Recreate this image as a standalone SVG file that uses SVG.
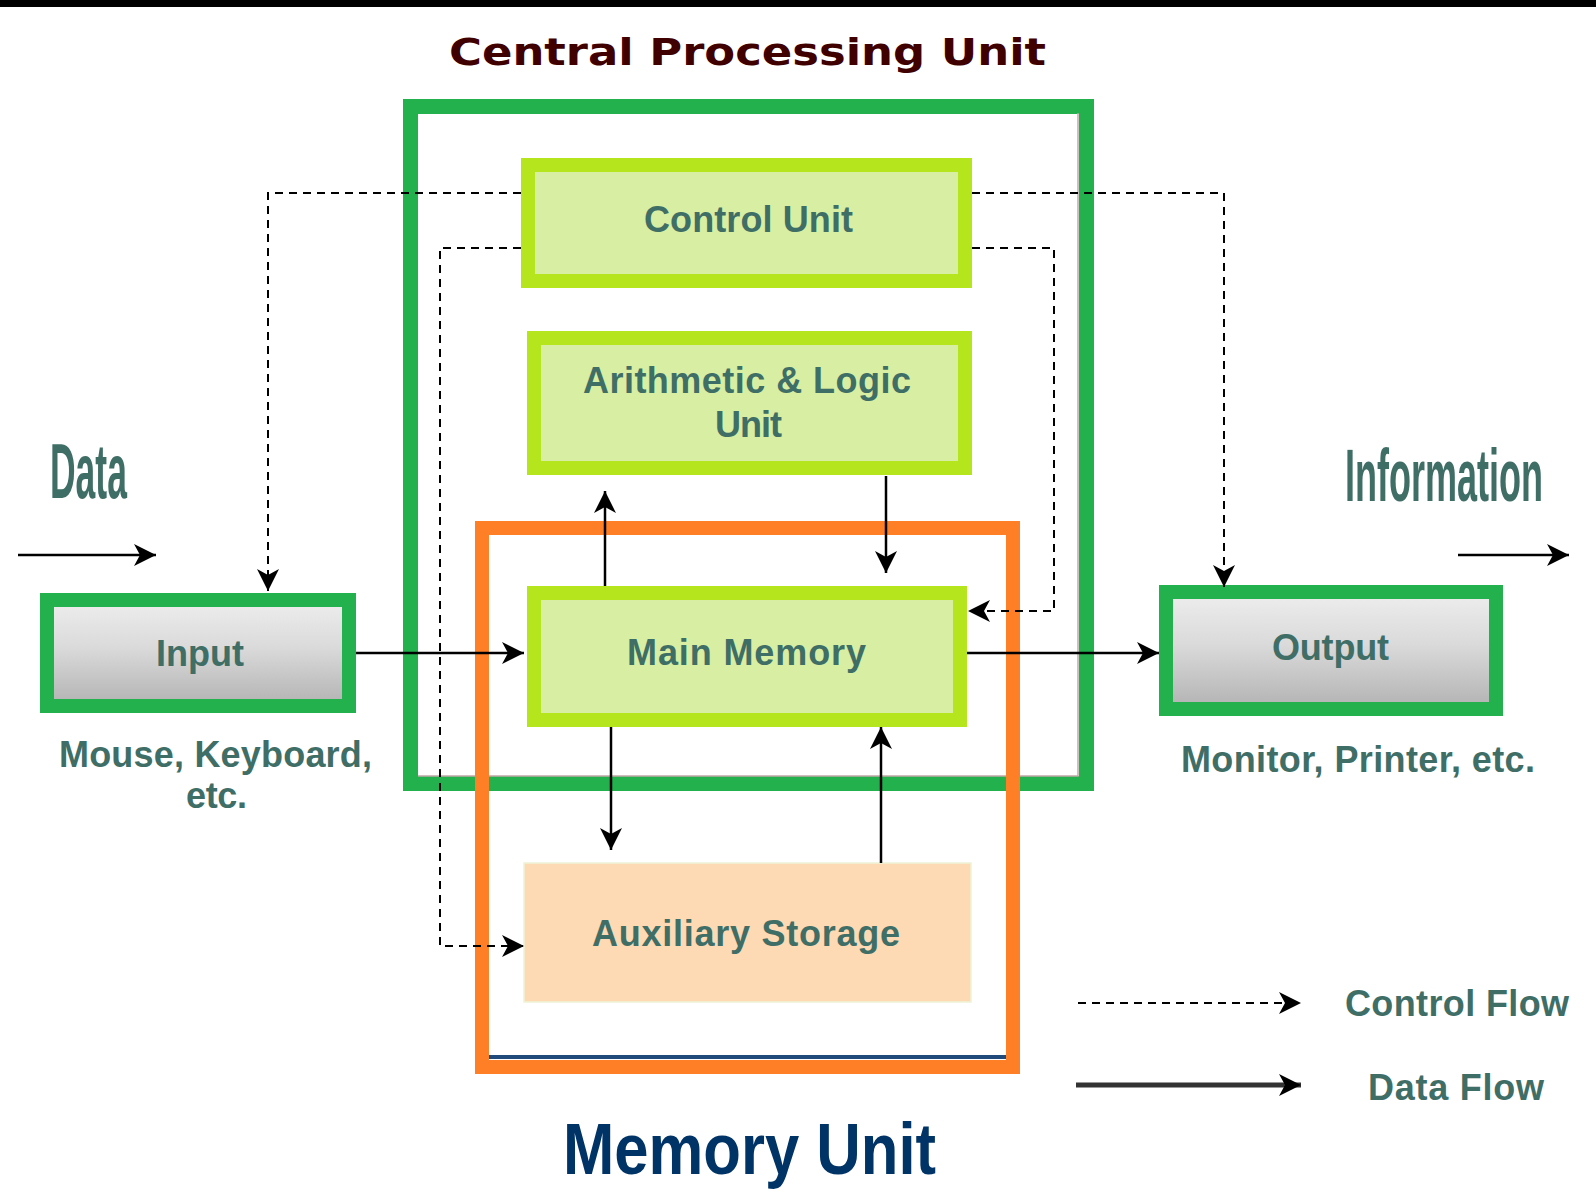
<svg xmlns="http://www.w3.org/2000/svg" width="1596" height="1202" viewBox="0 0 1596 1202">
  <style>
    .lbl { font-family: "Liberation Sans", Arial, sans-serif; font-weight: bold; font-size: 36px; fill: #3f6e66; }
    .tall { font-family: "Liberation Sans", Arial, sans-serif; font-weight: bold; fill: #3f6e66; }
    .title { font-family: "DejaVu Sans", Verdana, sans-serif; font-weight: bold; font-size: 38px; fill: #400000; }
    .mem { font-family: "Liberation Sans", Arial, sans-serif; font-weight: bold; font-size: 72px; fill: #003366; }
    .unit { fill: #d7eea3; stroke: #b5e61d; stroke-width: 14; }
    .io { fill: url(#ioFill); stroke: #22b14c; stroke-width: 14; }
    .data { fill: none; stroke: #000; stroke-width: 2.5; marker-end: url(#head); }
    .ctrl { fill: none; stroke: #000; stroke-width: 2; stroke-dasharray: 8 6; marker-end: url(#head); }
  </style>
  <defs>
    <linearGradient id="ioFill" x1="0" y1="0" x2="0" y2="1">
      <stop offset="0" stop-color="#eeeeee"/>
      <stop offset="0.45" stop-color="#dadada"/>
      <stop offset="1" stop-color="#b2b2b2"/>
    </linearGradient>
    <marker id="head" markerUnits="userSpaceOnUse" viewBox="0 0 22 22" refX="22" refY="11" markerWidth="22" markerHeight="22" orient="auto">
      <path d="M0,0 L22,11 L0,22 L6,11 Z" fill="#000"/>
    </marker>
  </defs>

  <rect x="0" y="0" width="1596" height="1202" fill="#fff"/>
  <rect x="0" y="0" width="1596" height="7" fill="#000"/>

  <!-- CPU container -->
  <g id="cpu">
    <rect x="410.5" y="106.5" width="676" height="677" fill="none" stroke="#22b14c" stroke-width="15"/>
    <path d="M1078,113 V776 H418" fill="none" stroke="#c2a8a8" stroke-width="1.5"/>
    <text class="title" x="449" y="65" textLength="597" lengthAdjust="spacingAndGlyphs">Central Processing Unit</text>
  </g>

  <!-- Memory unit container -->
  <g id="memory-unit">
    <rect x="482" y="528" width="531" height="539" fill="none" stroke="#ff7f27" stroke-width="14"/>
    <rect x="489" y="1055" width="517" height="4" fill="#1f4a7a"/>
    <text class="mem" x="563" y="1174" textLength="373" lengthAdjust="spacingAndGlyphs">Memory Unit</text>
  </g>

  <g id="control-unit">
    <rect class="unit" x="528" y="165" width="437" height="116"/>
    <text class="lbl" x="644" y="232" textLength="209" lengthAdjust="spacing">Control Unit</text>
  </g>

  <g id="alu">
    <rect class="unit" x="534" y="338" width="431" height="130"/>
    <text class="lbl" x="583" y="393" textLength="328" lengthAdjust="spacing">Arithmetic &amp; Logic</text>
    <text class="lbl" x="715" y="437" textLength="67" lengthAdjust="spacing">Unit</text>
  </g>

  <g id="main-memory">
    <rect class="unit" x="534" y="593" width="426" height="127"/>
    <text class="lbl" x="627" y="665" textLength="239" lengthAdjust="spacing">Main Memory</text>
  </g>

  <g id="auxiliary-storage">
    <rect x="524" y="863" width="447" height="139" fill="#fdd9b4" stroke="#eef3d6" stroke-width="1.5"/>
    <text class="lbl" x="592" y="946" textLength="308" lengthAdjust="spacing">Auxiliary Storage</text>
  </g>

  <g id="input">
    <rect class="io" x="47" y="600" width="302" height="106"/>
    <text class="lbl" x="156" y="666" textLength="88" lengthAdjust="spacing">Input</text>
    <text class="lbl" x="59" y="767" textLength="313" lengthAdjust="spacing">Mouse, Keyboard,</text>
    <text class="lbl" x="186" y="808" textLength="61" lengthAdjust="spacing">etc.</text>
  </g>

  <g id="output">
    <rect class="io" x="1166" y="592" width="330" height="117"/>
    <text class="lbl" x="1272" y="660" textLength="117" lengthAdjust="spacing">Output</text>
    <text class="lbl" x="1181" y="772" textLength="354" lengthAdjust="spacing">Monitor, Printer, etc.</text>
  </g>

  <!-- tall condensed side labels: narrowed by a horizontal scale -->
  <g id="data-label" transform="translate(50,498) scale(0.4605,1)">
    <text class="tall" x="0" y="0" font-size="77" textLength="167" lengthAdjust="spacingAndGlyphs">Data</text>
  </g>

  <g id="information-label" transform="translate(1345,501) scale(0.4865,1)">
    <text class="tall" x="0" y="0" font-size="74" textLength="407" lengthAdjust="spacingAndGlyphs">Information</text>
  </g>

  <!-- connectors -->
  <g id="connectors">
    <path class="data" d="M18,555 H156"/>
    <path class="data" d="M1458,555 H1569"/>
    <path class="data" d="M356,653 H524"/>
    <path class="data" d="M967,653 H1159"/>
    <path class="data" d="M605,586 V491"/>
    <path class="data" d="M886,476 V573"/>
    <path class="data" d="M611,727 V850"/>
    <path class="data" d="M881,863 V727"/>
    <path class="ctrl" d="M521,193 H268 V591"/>
    <path class="ctrl" d="M972,193 H1224 V587"/>
    <path class="ctrl" d="M521,248 H440 V946 H524"/>
    <path class="ctrl" d="M972,248 H1054 V611 H968"/>
  </g>

  <!-- legend -->
  <g id="legend">
    <path class="ctrl" d="M1078,1003 H1301"/>
    <text class="lbl" x="1345" y="1016" textLength="224" lengthAdjust="spacing">Control Flow</text>
    <path d="M1076,1085 H1301" fill="none" stroke="#333" stroke-width="5" marker-end="url(#head)"/>
    <text class="lbl" x="1368" y="1100" textLength="176" lengthAdjust="spacing">Data Flow</text>
  </g>
</svg>
